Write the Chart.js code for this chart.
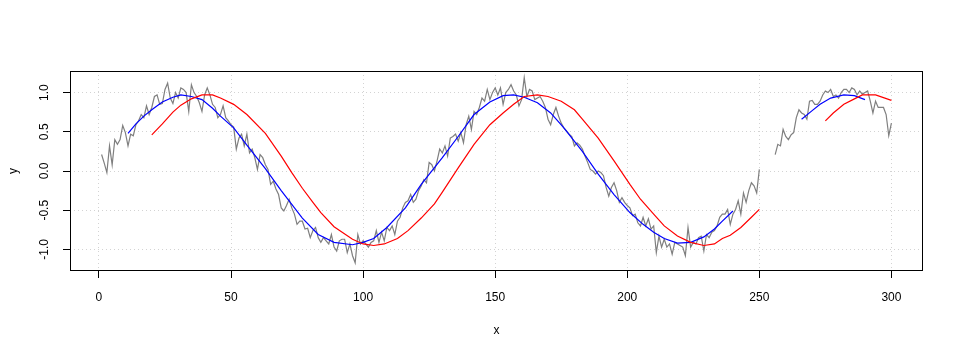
<!DOCTYPE html>
<html><head><meta charset="utf-8">
<script src="https://cdn.jsdelivr.net/npm/chart.js@4.4.1/dist/chart.umd.min.js"></script>
<style>html,body{margin:0;padding:0;background:#fff}canvas{display:block}</style>
</head><body>
<canvas id="c" width="960" height="360"></canvas>
<script>
// observed series, x = 1..300 (251..255 missing)
const grayY = [
 0.21,0.10,-0.02,0.32,0.08,0.40,0.34,0.40,0.58,0.49,
 0.32,0.47,0.45,0.59,0.64,0.72,0.68,0.83,0.72,0.81,
 0.95,0.97,0.85,0.86,1.04,1.12,0.93,0.86,1.00,0.93,
 1.06,1.04,1.00,0.76,1.10,1.00,0.95,0.87,0.76,0.97,
 1.06,0.97,0.85,0.81,0.68,0.72,0.83,0.68,0.64,0.59,
 0.56,0.28,0.42,0.47,0.32,0.47,0.23,0.28,0.17,0.02,
 0.21,0.17,0.08,0.02,-0.17,-0.13,-0.23,-0.30,-0.47,-0.51,
 -0.44,-0.36,-0.47,-0.55,-0.68,-0.64,-0.64,-0.74,-0.73,-0.85,
 -0.76,-0.72,-0.85,-0.91,-0.85,-0.89,-0.93,-0.81,-0.97,-1.02,
 -0.89,-0.87,-0.87,-1.04,-0.93,-1.08,-1.17,-0.81,-0.93,-0.89,
 -0.93,-0.97,-0.91,-0.89,-0.76,-0.91,-0.78,-0.89,-0.72,-0.76,
 -0.70,-0.81,-0.64,-0.59,-0.47,-0.40,-0.38,-0.30,-0.40,-0.36,
 -0.25,-0.19,-0.11,-0.15,0.11,0.08,0.00,0.13,0.28,0.23,
 0.32,0.19,0.42,0.44,0.47,0.38,0.49,0.36,0.59,0.70,
 0.53,0.76,0.72,0.81,0.93,0.89,1.04,0.91,1.00,1.06,
 0.97,1.06,0.85,1.00,1.04,1.10,1.02,0.97,0.83,0.91,
 1.19,0.95,1.04,1.02,0.91,0.93,0.95,0.89,0.81,0.66,
 0.59,0.72,0.81,0.70,0.61,0.55,0.51,0.47,0.44,0.32,
 0.36,0.33,0.28,0.19,0.11,0.02,0.00,-0.04,0.00,-0.02,
 -0.06,-0.21,-0.32,-0.21,-0.15,-0.25,-0.40,-0.34,-0.40,-0.44,
 -0.47,-0.57,-0.55,-0.66,-0.70,-0.59,-0.70,-0.61,-0.74,-0.70,
 -1.04,-0.83,-0.97,-0.87,-0.97,-0.93,-1.06,-0.91,-0.93,-0.95,
 -0.97,-1.08,-0.72,-0.97,-0.91,-0.93,-0.85,-0.83,-1.02,-0.81,
 -0.85,-0.78,-0.76,-0.70,-0.59,-0.55,-0.55,-0.49,-0.68,-0.55,
 -0.49,-0.38,-0.55,-0.28,-0.40,-0.25,-0.15,-0.19,-0.28,0.02,
 null,null,null,null,null,0.21,0.34,0.32,0.53,0.44,
 0.40,0.46,0.49,0.68,0.78,0.74,0.72,0.66,0.89,0.90,
 0.85,0.85,0.89,0.97,1.02,1.00,1.04,0.95,0.97,0.93,
 1.00,1.04,1.04,1.00,1.06,1.04,0.97,1.02,0.98,1.00,
 1.02,0.89,0.74,0.89,0.81,0.81,0.81,0.72,0.45,0.61
];
// centered moving average (blue), read at sample positions
const blueX = [11,14,17,20,24,28,31,35,39,43,46,51,56,63,69,77,83,89,96,100,104,109,116,122,130,136,142,148,153,157,161,166,171,176,183,189,195,201,206,210,214,219,224,229,233,236,240,253,266,270,273,277,282,286,290];
const blueY = [0.48,0.60,0.70,0.78,0.88,0.94,0.97,0.95,0.91,0.80,0.70,0.55,0.33,0.03,-0.25,-0.60,-0.81,-0.91,-0.94,-0.91,-0.86,-0.72,-0.47,-0.17,0.17,0.44,0.72,0.88,0.96,0.97,0.94,0.87,0.74,0.55,0.25,-0.04,-0.30,-0.53,-0.68,-0.78,-0.86,-0.92,-0.91,-0.84,-0.74,-0.64,-0.51,null,0.66,0.77,0.85,0.93,0.97,0.96,0.91];
// trailing moving average (red), read at sample positions
const redX = [20,24,28,31,35,39,43,46,51,56,63,69,73,77,81,84,89,96,100,104,108,113,117,122,127,130,136,142,148,153,157,161,166,170,175,180,183,189,195,201,205,210,214,219,224,229,233,236,239,243,247,250,262,275,278,282,286,289,294,300];
const redY = [0.46,0.60,0.75,0.84,0.92,0.97,0.97,0.93,0.85,0.72,0.48,0.19,-0.02,-0.22,-0.40,-0.53,-0.71,-0.87,-0.93,-0.95,-0.93,-0.86,-0.76,-0.60,-0.42,-0.27,0.04,0.34,0.59,0.74,0.85,0.95,0.97,0.95,0.89,0.78,0.66,0.42,0.13,-0.17,-0.36,-0.55,-0.70,-0.83,-0.91,-0.95,-0.93,-0.86,-0.82,-0.72,-0.59,-0.49,null,0.64,0.74,0.85,0.92,0.97,0.97,0.90];
const xTicks = [0,50,100,150,200,250,300];
const yTicks = [-1,-0.5,0,0.5,1];
const xLabel = 'x', yLabel = 'y';

const toPts = (xs, ys) => xs.map((x, i) => ({x: x, y: ys[i]}));
const grayPts = grayY.map((y, i) => ({x: i + 1, y: y}));
const FONT = {family: '"Liberation Sans", Arial, Helvetica, sans-serif', size: 12};

const boxPlugin = {
  id: 'box',
  afterDraw(chart) {
    const {ctx, chartArea: a} = chart;
    ctx.save();
    ctx.strokeStyle = '#000';
    ctx.lineWidth = 1;
    ctx.strokeRect(Math.round(a.left) + 0.5, Math.round(a.top) + 0.5,
      Math.round(a.right - a.left) - 1, Math.round(a.bottom - a.top) - 1);
    ctx.restore();
  }
};

new Chart(document.getElementById('c'), {
  type: 'line',
  data: {
    datasets: [
      {data: toPts(redX, redY), borderColor: '#ff0000', order: 1},
      {data: toPts(blueX, blueY), borderColor: '#0000ff', order: 2},
      {data: grayPts, borderColor: '#7f7f7f', order: 3}
    ]
  },
  options: {
    responsive: false, animation: false, devicePixelRatio: 1,
    layout: {padding: {top: 71, right: 37, bottom: 0, left: 0}},
    plugins: {legend: {display: false}, tooltip: {enabled: false}},
    elements: {point: {radius: 0, hoverRadius: 0}, line: {borderWidth: 1.2, tension: 0, fill: false}},
    spanGaps: false,
    scales: {
      x: {
        type: 'linear', min: -10.96, max: 311.96,
        afterBuildTicks: s => { s.ticks = xTicks.map(v => ({value: v})); },
        afterFit: s => { s.height = 89; },
        ticks: {autoSkip: false, maxRotation: 0, minRotation: 0, padding: 12, color: '#000', font: FONT,
                callback: v => String(v)},
        grid: {color: '#d3d3d3', lineWidth: 1, tickColor: '#000', tickLength: 7, tickWidth: 1},
        border: {display: false, dash: [1, 3]},
        title: {display: true, text: xLabel, color: '#000', font: FONT, padding: {top: 0, bottom: 22}}
      },
      y: {
        type: 'linear', min: -1.275, max: 1.275,
        afterBuildTicks: s => { s.ticks = yTicks.map(v => ({value: v})); },
        afterFit: s => { s.width = 70; },
        ticks: {autoSkip: false, minRotation: 90, maxRotation: 90, crossAlign: 'center', padding: 8,
                color: '#000', font: FONT, callback: v => Number(v).toFixed(1)},
        grid: {color: '#d3d3d3', lineWidth: 1, tickColor: '#000', tickLength: 7, tickWidth: 1},
        border: {display: false, dash: [1, 3]},
        title: {display: true, text: yLabel, color: '#000', font: FONT, padding: {top: 6, bottom: 0}}
      }
    }
  },
  plugins: [boxPlugin]
});
</script>
</body></html>
